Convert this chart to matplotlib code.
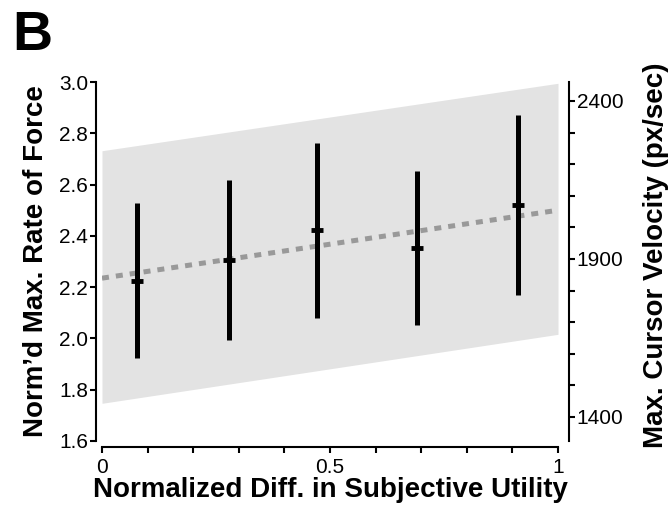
import matplotlib
matplotlib.use("Agg")
import matplotlib.pyplot as plt
from matplotlib.ticker import MultipleLocator, FixedLocator

plt.rcParams["font.family"] = ["Liberation Sans", "DejaVu Sans"]

# ── Data ─────────────────────────────────────────────────────────────────────
x_pts = [0.077, 0.279, 0.471, 0.691, 0.913]
means = [2.225, 2.306, 2.423, 2.354, 2.520]
err_lo = [1.922, 1.994, 2.081, 2.051, 2.169]
err_hi = [2.527, 2.617, 2.763, 2.654, 2.871]

band_x = [0.0, 1.0]
band_lo = [1.747, 2.016]
band_hi = [2.732, 2.995]
fit_x = [0.0, 1.0]
fit_y = [2.235, 2.500]

left_ticks = [1.6, 1.8, 2.0, 2.2, 2.4, 2.6, 2.8, 3.0]
right_major = [1400, 1900, 2400]

# ── Figure ───────────────────────────────────────────────────────────────────
fig = plt.figure(figsize=(6.72, 5.16), dpi=100, facecolor="white")
ax = fig.add_axes([102 / 672, 75 / 516, 456 / 672, 359 / 516])

ax.fill_between(band_x, band_lo, band_hi, color="#e3e3e3", lw=0, zorder=1)
ax.plot(fit_x, fit_y, color="#999999", lw=3.6, linestyle=(0, (1.4, 1.4)),
        solid_capstyle="butt", dash_capstyle="butt", zorder=2)
ax.vlines(x_pts, err_lo, err_hi, color="black", lw=3.6, zorder=3)
ax.plot(x_pts, means, linestyle="none", marker="_", markersize=9,
        markeredgewidth=3.5, color="black", zorder=4)

ax.set_xlim(0, 1)
ax.set_ylim(1.6, 3.0)

for s in ["top", "right"]:
    ax.spines[s].set_visible(False)
ax.spines["left"].set_position(("outward", 4))
ax.spines["bottom"].set_position(("outward", 4))
ax.spines["left"].set_linewidth(1.5)
ax.spines["bottom"].set_linewidth(1.5)

ax.yaxis.set_major_locator(FixedLocator(left_ticks))
ax.set_yticklabels([f"{v:.1f}" for v in left_ticks])
ax.xaxis.set_major_locator(FixedLocator([0, 0.5, 1]))
ax.set_xticklabels(["0", "0.5", "1"])
ax.xaxis.set_minor_locator(MultipleLocator(0.1))
ax.tick_params(axis="both", which="both", direction="out", length=4.5,
               width=1.5, labelsize=15, pad=1.5)
ax.tick_params(axis="x", which="both", pad=4)

ax.set_xlabel("Normalized Diff. in Subjective Utility", fontsize=20,
              fontweight="bold", labelpad=0)
ax.set_ylabel("Norm\u2019d Max. Rate of Force", fontsize=20,
              fontweight="bold", labelpad=7)

# right axis
ax2 = ax.twinx()
ax2.set_ylim(1324, 2460)
for s in ["top", "left", "bottom"]:
    ax2.spines[s].set_visible(False)
ax2.spines["right"].set_position(("outward", 8))
ax2.spines["right"].set_linewidth(1.5)
ax2.yaxis.set_major_locator(FixedLocator(right_major))
ax2.yaxis.set_minor_locator(MultipleLocator(100))
ax2.tick_params(axis="y", which="both", direction="out", length=4.5,
                width=1.5, labelsize=15, pad=1)
ax2.set_ylabel("Max. Cursor Velocity (px/sec)", fontsize=20,
               fontweight="bold")
ax2.yaxis.set_label_coords(1.186, 0.518)

fig.text(12 / 672, 1 - 50 / 516, "B", fontsize=40, fontweight="bold",
         ha="left", va="baseline")

fig.savefig("out.png", dpi=100, facecolor="white")
